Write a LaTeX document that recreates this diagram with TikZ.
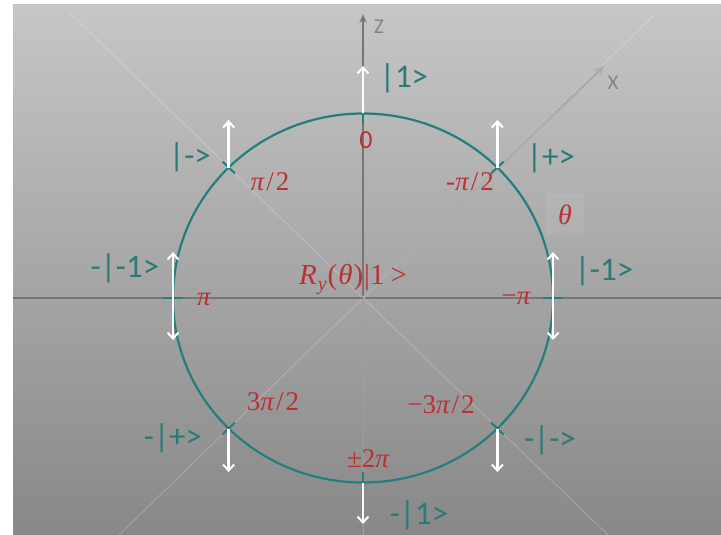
\documentclass[tikz,border=0pt]{standalone}
\usepackage{fontspec}
\setmainfont{Carlito}
\newfontfamily\rfont{Liberation Serif}
\usetikzlibrary{arrows.meta}
\definecolor{tealc}{RGB}{36,126,126}
\definecolor{tealt}{RGB}{42,122,118}
\definecolor{redc}{RGB}{188,48,52}
\definecolor{axg}{RGB}{118,118,118}
\definecolor{bgtop}{RGB}{198,198,198}
\definecolor{bgbot}{RGB}{136,136,136}
\newcommand{\pii}{{\itshape π}}
\newcommand{\myslash}{\kern2pt/\kern2pt}
\tikzset{
  tl/.style={text=tealt, font=\fontsize{33}{36}\selectfont, inner sep=0pt},
  rl/.style={text=redc, font=\rfont\fontsize{27}{30}\selectfont, inner sep=0pt},
  axl/.style={text=axg!90!white, font=\fontsize{21}{24}\selectfont, inner sep=0pt},
  warr/.style={draw=white, line width=2.4pt, -{Straight Barb[length=6pt,width=11pt,line width=2pt]}},
  wdarr/.style={draw=white, line width=2.4pt, {Straight Barb[length=6pt,width=11pt,line width=2pt]}-{Straight Barb[length=6pt,width=11pt,line width=2pt]}},
  tick/.style={draw=tealc, line width=2pt},
  diag/.style={draw=white, opacity=0.18, line width=1.2pt},
}
\begin{document}
\begin{tikzpicture}[x=1pt,y=-1pt]
\useasboundingbox (0,0) rectangle (721,535);
\fill[white] (0,0) rectangle (721,535);
\shade[top color=bgtop, bottom color=bgbot] (13,5) rectangle (721,535);
\coordinate (O) at (363,298);
\begin{scope}
\clip (13,5) rectangle (721,535);
\draw[diag] (69,12) -- (O) -- (608,535);
\draw[diag] (655,14) -- (O) -- (119,535);
% theta box
\fill[white, opacity=0.07] (545,193) rectangle (584,235);
% axes
\draw[draw=axg, line width=1.2pt] (13,298) -- (721,298);
\draw[draw=axg!70!white, line width=1pt] (363,535) -- (O);
\coordinate (ztip) at (363,14);
\draw[draw=axg, line width=1.3pt, -{Stealth[length=9pt,width=7pt]}] (O) -- (ztip);
\coordinate (xtip) at (604,66);
\draw[draw={rgb,255:red,172;green,172;blue,172}, line width=2.6pt, -{Stealth[length=10pt,width=9pt]}] (O) -- (xtip);
\end{scope}
\node[axl] (zl) at (379,27) {Z};
\node[axl] (xl) at (613,83) {X};
% circle
\draw[tealc, line width=2.2pt] (O) ellipse [x radius=190, y radius=184.5];
% points
\coordinate (p0) at (363,113.5);
\coordinate (pa) at (228.6,167.5);
\coordinate (pb) at (497.4,167.5);
\coordinate (pl) at (173,298);
\coordinate (pr) at (553,298);
\coordinate (pc) at (228.6,428.5);
\coordinate (pd) at (497.4,428.5);
\coordinate (p8) at (363,482.5);
% ticks
\draw[tick] (363,113) -- (363,124);
\draw[tick] (363,483) -- (363,472);
\draw[tick] (163,298) -- (183,298);
\draw[tick] (543,298) -- (563,298);
\draw[tick] (222.5,161.5) -- (235,173.5);
\draw[tick] (503.5,161.5) -- (491,173.5);
\draw[tick] (222.5,434.5) -- (235,422.5);
\draw[tick] (503.5,434.5) -- (491,422.5);
% tips
\coordinate (t0) at (363,66);
\coordinate (ta) at (228.6,120);
\coordinate (tb) at (497.4,120);
\coordinate (tlu) at (173,252);
\coordinate (tld) at (173,340);
\coordinate (tru) at (553,252);
\coordinate (trd) at (553,340);
\coordinate (tc) at (228.6,472);
\coordinate (td) at (497.4,472);
\coordinate (t8) at (363,524);
\draw[warr] (p0) -- (t0);
\draw[warr] (pa) -- (ta);
\draw[warr] (pb) -- (tb);
\draw[wdarr] (tld) -- (tlu);
\draw[wdarr] (trd) -- (tru);
\draw[warr] (pc) -- (tc);
\draw[warr] (pd) -- (td);
\draw[warr] (p8) -- (t8);
% teal labels
\node[tl] (l0) at (404,78) {|1>};
\node[tl] (la) at (190,157) {|->};
\node[tl] (lb) at (551,158) {|+>};
\node[tl] (ll) at (125,268) {-|-1>};
\node[tl] (lr) at (604,271) {|-1>};
\node[tl] (lc) at (173,438) {-|+>};
\node[tl] (ld) at (550,440) {-|->};
\node[tl] (l8) at (419,515) {-|1>};
% red labels
\node[rl, font=\fontsize{26}{28}\selectfont] (r0) at (366,140) {0};
\node[rl] (ra) at (270,182) {\pii\myslash2};
\node[rl] (rb) at (470,182) {-\pii\myslash2};
\node[rl] (rl) at (204,299) {\pii};
\node[rl] (rr) at (516,298) {−\pii};
\node[rl] (rc) at (273,402) {3\pii\myslash2};
\node[rl] (rd) at (441,405) {−3\pii\myslash2};
\node[rl] (r8) at (368,459) {±2\pii};
\node[rl, font=\rfont\fontsize{28}{30}\selectfont] (th) at (565,215) {\itshape θ};
\node[rl, font=\rfont\fontsize{29}{32}\selectfont] (ry) at (353,280) {{\itshape R\kern1pt\raisebox{-6pt}{\fontsize{20}{22}\selectfont y}}\kern1pt(\kern1pt\itshape θ\upshape\kern1pt)\kern1pt|1\kern6pt>};
\end{tikzpicture}
\end{document}
